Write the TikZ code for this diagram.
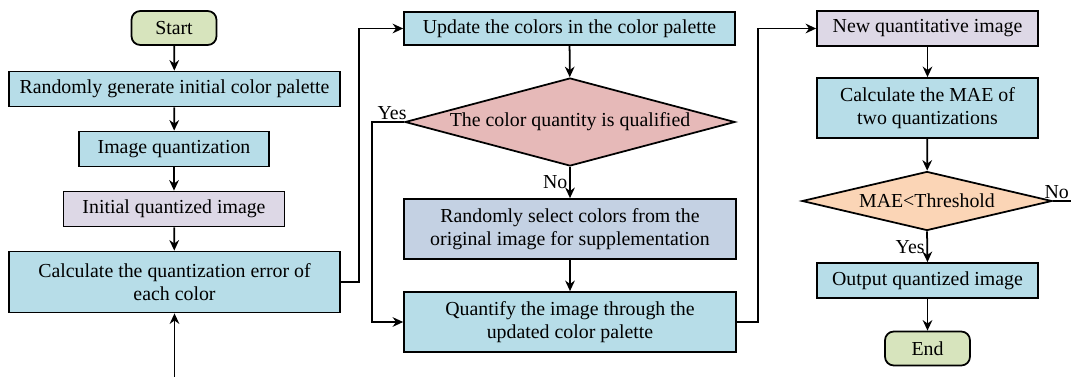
\documentclass[tikz,border=0pt]{standalone}
\usepackage{fontspec}
\setmainfont{Liberation Serif}
\usepackage{xcolor}
\usepackage{tikz}
\usetikzlibrary{arrows.meta,shapes.geometric}

\definecolor{termfill}{HTML}{D7E4BD}
\definecolor{procfill}{HTML}{B7DDE8}
\definecolor{imgfill}{HTML}{DDD8E6}
\definecolor{selfill}{HTML}{C4D1E3}
\definecolor{qualfill}{HTML}{E6B9B8}
\definecolor{thrfill}{HTML}{FBD5B6}

\begin{document}
\begin{tikzpicture}[x=0.02cm,y=-0.02cm,>=Stealth,
  font=\fontsize{11.3}{12.9}\selectfont,
  box/.style={draw,line width=1pt,align=center,inner sep=1pt,fill=procfill},
  term/.style={box,rounded corners=5pt,fill=termfill,minimum width=1.7cm,minimum height=0.68cm},
  decide/.style={draw,line width=1pt,diamond,inner sep=0pt,align=center},
  arr/.style={line width=1pt,-{Stealth[length=6pt,width=5.5pt]}},
  lbl/.style={inner sep=1pt}]
\clip (0,0) rectangle (1071,376);
% left column
\node[term] (start) at (174,28) {Start};
\node[box,minimum width=6.62cm,minimum height=0.7cm] (gen) at (174.5,89) {Randomly generate initial color palette};
\node[box,minimum width=3.8cm,minimum height=0.7cm] (quant) at (174,149) {Image quantization};
\node[box,fill=imgfill,minimum width=4.42cm,minimum height=0.7cm] (init) at (174,209) {Initial quantized image};
\node[box,minimum width=6.62cm,minimum height=1.22cm] (err) at (174.5,282) {Calculate the quantization error of\\each color};
\coordinate (loopin) at (174.5,400);
% middle column
\node[box,minimum width=6.62cm,minimum height=0.66cm] (update) at (569.5,28.5) {Update the colors in the color palette};
\node[decide,fill=qualfill,aspect=3.75,minimum width=6.6cm,minimum height=1.76cm] (qual) at (570,122) {The color quantity is qualified};
\node[box,fill=selfill,minimum width=6.64cm,minimum height=1.2cm] (sel) at (570,229) {Randomly select colors from the\\original image for supplementation};
\node[box,minimum width=6.64cm,minimum height=1.2cm] (requant) at (570,322) {Quantify the image through the\\updated color palette};
% right column
\node[box,fill=imgfill,minimum width=4.42cm,minimum height=0.7cm] (newimg) at (927.5,28.5) {New quantitative image};
\node[box,minimum width=4.42cm,minimum height=1.2cm] (mae) at (927.5,108) {Calculate the MAE of\\two quantizations};
\node[decide,fill=thrfill,aspect=4.2,minimum width=5cm,minimum height=1.18cm] (thr) at (927,201) {MAE<Threshold};
\node[box,minimum width=4.42cm,minimum height=0.7cm] (out) at (927.5,280.5) {Output quantized image};
\node[term] (stop) at (927.5,348.5) {End};
\coordinate (loopout) at (1100,201);
% connectors
\draw[arr] (start) -- (gen);
\draw[arr] (gen) -- (quant);
\draw[arr] (quant) -- (init);
\draw[arr] (init) -- (err);
\draw[arr] (loopin) -- (err);
\draw[arr] (err.east) -- ++(18,0) |- (update.west);
\draw[arr] (update) -- (qual);
\draw[arr] (qual.south) -- node[lbl,left]{No} (sel.north);
\draw[arr] (qual.west) node[lbl,above left,xshift=0.1cm]{Yes} -- ++(-32,0) |- (requant.west);
\draw[arr] (sel) -- (requant);
\draw[arr] (requant.east) -- ++(21,0) |- (newimg.west);
\draw[arr] (newimg) -- (mae);
\draw[arr] (mae) -- (thr);
\draw[arr] (thr.south) -- node[lbl,left]{Yes} (out.north);
\draw[arr] (out) -- (stop);
\draw[line width=1pt] (thr.east) node[lbl,anchor=south west,xshift=-0.22cm]{No} -- (loopout);
\end{tikzpicture}
\end{document}
